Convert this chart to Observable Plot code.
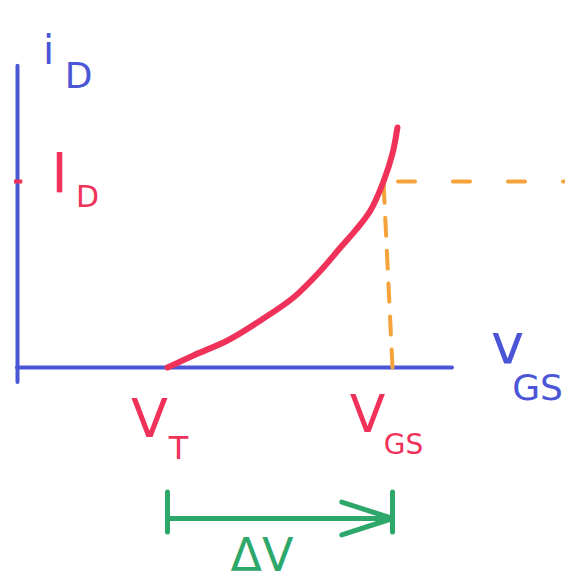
<!DOCTYPE html>
<html>
<head>
<meta charset="utf-8">
<script src="https://cdn.jsdelivr.net/npm/d3@7"></script>
<script src="https://cdn.jsdelivr.net/npm/@observablehq/plot@0.6"></script>
<style>
  html, body { margin: 0; padding: 0; background: #fff; overflow: hidden; }
  #chart svg { display: block; }
</style>
</head>
<body>
<div id="chart"></div>
<script>
// MOSFET transfer characteristic: iD against vGS above threshold.
const vT = 1.0;          // threshold voltage
const vGS = 2.5;         // operating gate-source voltage
const iD = 1.0;          // drain current at the operating point
const vAxisEnd = 2.9;    // extent of the vGS axis
const iAxisTop = 1.62;   // extent of the iD axis
const iAxisBottom = -0.08;

// Sketched square-law curve, read point by point
const curveV = [1.0, 1.173, 1.40, 1.62, 1.84, 2.02, 2.153, 2.253, 2.353, 2.44, 2.50, 2.533];
const curveI = [0.0, 0.065, 0.145, 0.253, 0.376, 0.52, 0.645, 0.737, 0.844, 1.0, 1.15, 1.29];
const curve = curveV.map((v, k) => ({v, i: curveI[k]}));

// Projection of the operating point onto both axes
const dropV = [vGS, 2.44];
const dropI = [0, iD];
const drop = dropV.map((v, k) => ({v, i: dropI[k]}));
const guideEnd = 3.66;

// Text labels
const yName = ["i", "D"];
const xName = ["v", "GS"];
const idName = ["I", "D"];
const vtName = ["V", "T"];
const vgsName = ["V", "GS"];
const deltaName = "ΔV";

const blue = "#4a56d6";
const red = "#f0325a";
const green = "#2ea76a";
const orange = "#f6a23a";
const font = "DejaVu Sans";

const txt = (s, x, y, o) => Plot.text([s], {x: () => x, y: () => y, text: d => d,
  fontFamily: font, textAnchor: "middle", lineAnchor: "middle", ...o});

const chart = Plot.plot({
  width: 565,
  height: 582,
  margin: 0,
  x: {domain: [-17 / 150, 548 / 150], range: [0, 565], axis: null},
  y: {domain: [-215 / 186, 367 / 186], range: [582, 0], axis: null},
  marks: [
    // axes
    Plot.ruleX([0], {y1: iAxisBottom, y2: iAxisTop, stroke: blue, strokeWidth: 4, strokeLinecap: "round"}),
    Plot.ruleY([0], {x1: 0, x2: vAxisEnd, stroke: blue, strokeWidth: 4, strokeLinecap: "round"}),
    // dashed projections of the operating point
    Plot.line(drop, {x: "v", y: "i", stroke: orange, strokeWidth: 4, strokeDasharray: "18 15", strokeLinecap: "round"}),
    Plot.ruleY([iD], {x1: vGS + 0.04, x2: guideEnd, stroke: orange, strokeWidth: 4, strokeDasharray: "17 38", strokeLinecap: "round"}),
    // ID tick on the current axis
    Plot.ruleY([iD], {x1: -0.02, x2: 0.035, stroke: red, strokeWidth: 4}),
    // transfer curve
    Plot.line(curve, {x: "v", y: "i", stroke: red, strokeWidth: 6, curve: "catmull-rom", strokeLinecap: "round"}),
    // overdrive span ΔV
    Plot.arrow([0], {x1: () => vT, x2: () => vGS, y1: () => 0, y2: () => 0, dy: 151,
      stroke: green, strokeWidth: 5, headLength: 16, headAngle: 36, strokeLinecap: "round"}),
    Plot.ruleX([vT, vGS], {y1: () => 0, y2: () => 0, dy: 151, insetTop: -26, insetBottom: -14,
      stroke: green, strokeWidth: 5, strokeLinecap: "round"}),
    // labels
    txt(yName[0], 0, iAxisTop, {dx: 31, dy: -15, fontSize: 40, fill: blue}),
    txt(yName[1], 0, iAxisTop, {dx: 61, dy: 10, fontSize: 36, fill: blue}),
    txt(idName[0], 0, iD, {dx: 42, dy: -7, fontSize: 56, fill: red}),
    txt(idName[1], 0, iD, {dx: 70, dy: 16, fontSize: 30, fill: red}),
    txt(xName[0], vAxisEnd, 0, {dx: 55, dy: -22, fontSize: 56, fill: blue}),
    txt(xName[1], vAxisEnd, 0, {dx: 85, dy: 21, fontSize: 36, fill: blue}),
    txt(vtName[0], vT, 0, {dx: -18, dy: 52, fontSize: 54, fill: red}),
    txt(vtName[1], vT, 0, {dx: 11, dy: 81, fontSize: 32, fill: red}),
    txt(vgsName[0], vGS, 0, {dx: -25, dy: 48, fontSize: 52, fill: red}),
    txt(vgsName[1], vGS, 0, {dx: 11, dy: 78, fontSize: 28, fill: red}),
    txt(deltaName, (vT + vGS) / 2, 0, {dx: -18, dy: 189, fontSize: 46, fill: green})
  ]
});

document.getElementById("chart").appendChild(chart);
</script>
</body>
</html>
